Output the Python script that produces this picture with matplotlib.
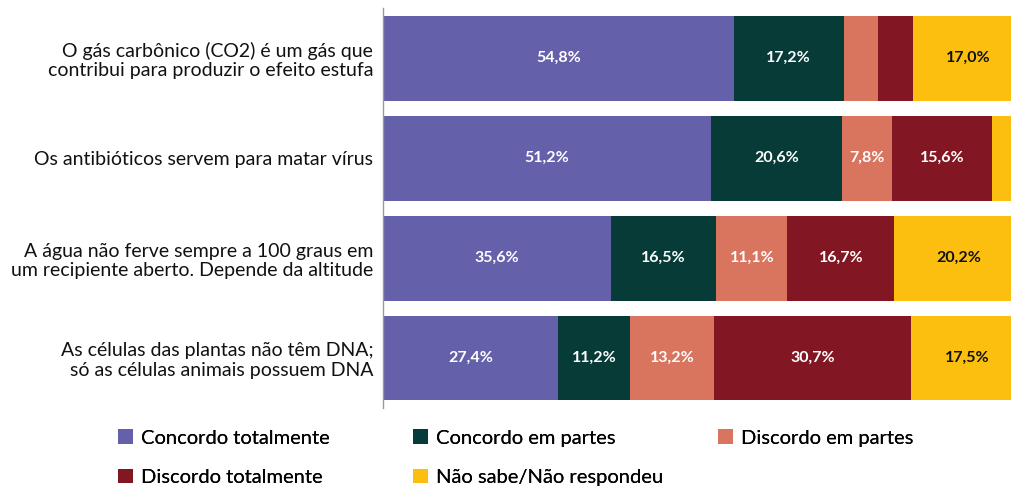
import numpy as np
import matplotlib.pyplot as plt

questions = [
    "O gás carbônico (CO2) é um gás que\ncontribui para produzir o efeito estufa",
    "Os antibióticos servem para matar vírus",
    "A água não ferve sempre a 100 graus em\num recipiente aberto. Depende da altitude",
    "As células das plantas não têm DNA;\nsó as células animais possuem DNA",
]
answers = ["Concordo totalmente", "Concordo em partes", "Discordo em partes",
           "Discordo totalmente", "Não sabe/Não respondeu"]

concordo_tot = [54.8, 51.2, 35.6, 27.4]
concordo_par = [17.2, 20.6, 16.5, 11.2]
discordo_par = [5.3, 7.8, 11.1, 13.2]
discordo_tot = [5.6, 15.6, 16.7, 30.7]
nao_sabe = [17.0, 4.8, 20.2, 17.5]

series = [concordo_tot, concordo_par, discordo_par, discordo_tot, nao_sabe]
colors = ["#6560aa", "#073b38", "#d9745e", "#821622", "#fcbf10"]
text_colors = ["white", "white", "white", "white", "#111111"]

plt.rcParams['font.family'] = ['Lato', 'DejaVu Sans']

fig = plt.figure(figsize=(10.11, 4.86), dpi=100)
ax = fig.add_axes([0.3788, 0.1605, 0.633, 0.823])

y = np.arange(len(questions))
left = np.zeros(len(questions))
bars = []
for vals, col, tc in zip(series, colors, text_colors):
    vals = np.array(vals)
    b = ax.barh(y, vals, left=left, height=0.85, color=col)
    bars.append(b)
    for yi, (l, v) in enumerate(zip(left, vals)):
        if v >= 7:
            ax.text(l + v / 2, yi, f"{v:.1f}%".replace(".", ","), ha="center", va="center",
                    color=tc, fontsize=11.5, fontweight="bold")
    left += vals

ax.set_xlim(0, 100)
ax.set_ylim(len(questions) - 0.5, -0.5)
ax.set_yticks(y)
ax.set_yticklabels(questions, fontsize=14, color="#111111", linespacing=1.15)
ax.tick_params(axis="y", length=0, pad=7)
ax.set_xticks([])
for s in ["top", "right", "bottom"]:
    ax.spines[s].set_visible(False)
ax.spines["left"].set_color("#999999")
ax.spines["left"].set_linewidth(1)

# legend laid out in three columns
cols = [[0, 3], [1, 4], [2]]
xs = [0.1167, 0.4085, 0.710]
for xpos, idx in zip(xs, cols):
    leg = fig.legend([bars[i] for i in idx], [answers[i] for i in idx],
                     loc="upper left", bbox_to_anchor=(xpos, 0.117), frameon=False,
                     fontsize=14.5, handlelength=0.75, handleheight=0.75,
                     handletextpad=0.4, labelspacing=1.1, borderaxespad=0, borderpad=0)
    fig.add_artist(leg)

fig.savefig("out.png", dpi=100)
